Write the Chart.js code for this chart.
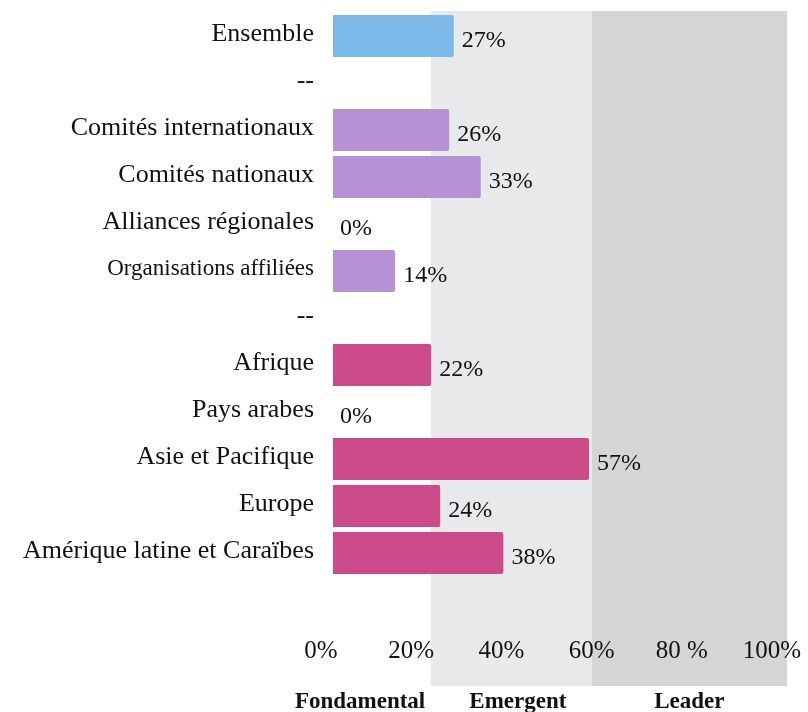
<!DOCTYPE html>
<html>
<head>
<meta charset="utf-8">
<script src="https://cdn.jsdelivr.net/npm/chart.js@4/dist/chart.umd.min.js"></script>
<style>
body{margin:0;background:#fff;overflow:hidden}
</style>
</head>
<body>
<canvas id="c" width="808" height="712"></canvas>
<script>
const categories=["Ensemble","--","Comités internationaux","Comités nationaux","Alliances régionales","Organisations affiliées","--","Afrique","Pays arabes","Asie et Pacifique","Europe","Amérique latine et Caraïbes"]
const values=[27,null,26,33,0,14,null,22,0,57,24,38]
const groups=["all","","committee","committee","committee","committee","","region","region","region","region","region"]
const xTickLabels=["0%","20%","40%","60%","80 %","100%"]
const levelNames=["Fondamental","Emergent","Leader"]
const levelLabelAt=[6,41,79]
const bandStops=[21.7,57.4,100.7]

const groupColors={all:"#7db9e8",committee:"#b692d4",region:"#cb4a89","":"#fff"}
const bandColors=["#e8e9eb","#d4d5d5"]
const serif="'Liberation Serif', 'Times New Roman', serif"

const bands={
id:"bands",
beforeDraw(chart){
const {ctx,chartArea,scales}=chart
const x=scales.x
ctx.save()
for(let i=0;i<bandStops.length-1;i++){
const x0=x.getPixelForValue(bandStops[i])
const x1=x.getPixelForValue(bandStops[i+1])
ctx.fillStyle=bandColors[i]
ctx.fillRect(x0,chartArea.top-1.5,x1-x0,chartArea.bottom-chartArea.top+111)
}
ctx.restore()
}
}

const valueLabels={
id:"valueLabels",
afterDatasetsDraw(chart){
const {ctx}=chart
const meta=chart.getDatasetMeta(0)
ctx.save()
ctx.font="24px "+serif
ctx.fillStyle="#111"
ctx.textBaseline="middle"
ctx.textAlign="left"
meta.data.forEach((bar,i)=>{
if(values[i]===null)return
ctx.fillText(values[i]+"%",bar.x+7,bar.y+5)
})
ctx.restore()
}
}

new Chart(document.getElementById("c"),{
type:"bar",
data:{
labels:categories,
datasets:[{
data:values,
backgroundColor:groups.map(g=>groupColors[g]),
borderColor:"rgba(255,255,255,0.35)",
borderWidth:{right:1,top:0,bottom:0,left:0},
borderRadius:{topRight:3,bottomRight:3},
borderSkipped:"left",
barPercentage:0.894,
categoryPercentage:1
}]
},
options:{
indexAxis:"y",
responsive:false,
animation:false,
events:[],
layout:{padding:{top:12.5,right:24,left:0,bottom:0}},
plugins:{legend:{display:false},tooltip:{enabled:false}},
scales:{
y:{
grid:{display:false,drawTicks:false},
border:{display:false},
afterFit(s){s.width=333;s.paddingTop=0;s.paddingBottom=0},
ticks:{
color:"#111",
padding:19,
labelOffset:-2,
autoSkip:false,
font:c=>({family:serif,size:c.index===5?23:26})
}
},
x:{
min:0,max:100,
weight:0,
grid:{display:false,drawTicks:false},
border:{display:false},
afterFit(s){s.height=88.5;s.paddingLeft=0;s.paddingRight=0},
ticks:{
stepSize:20,
color:"#111",
padding:60,
labelOffset:-12,
maxRotation:0,
font:{family:serif,size:25},
callback:v=>xTickLabels[v/20]
}
},
x2:{
type:"linear",
position:"bottom",
min:0,max:100,
weight:1,
grid:{display:false,drawTicks:false},
border:{display:false},
afterFit(s){s.height=47;s.paddingLeft=0;s.paddingRight=0},
afterBuildTicks(s){s.ticks=levelLabelAt.map(v=>({value:v}))},
ticks:{
color:"#111",
padding:23,
maxRotation:0,
autoSkip:false,
font:{family:serif,size:23,weight:"bold"},
callback:(v,i)=>levelNames[i]
}
}
}
},
plugins:[bands,valueLabels]
})
</script>
</body>
</html>
